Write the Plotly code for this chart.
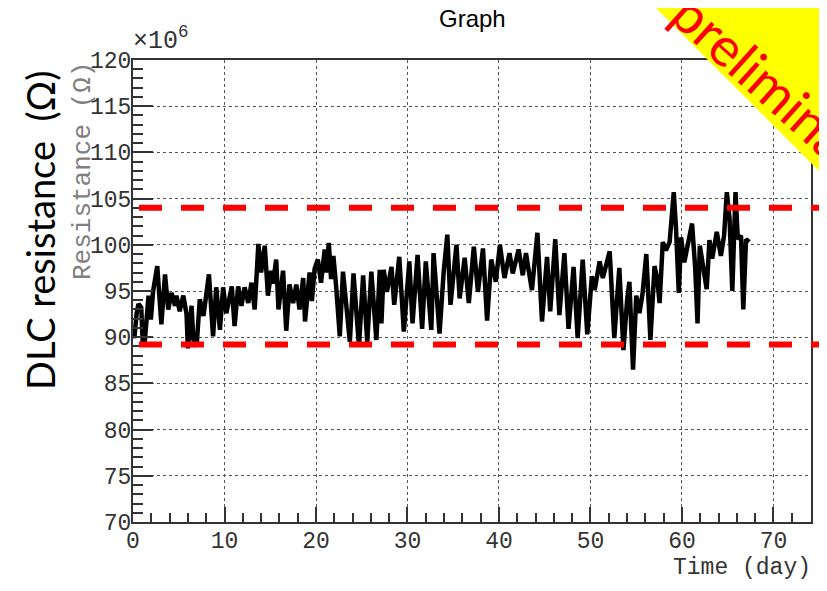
import plotly.graph_objects as go

# ---------------- data ----------------
days = [
    0.0, 0.15, 0.4, 0.6, 0.9, 1.05, 1.3, 1.7, 1.95, 2.2, 2.65, 3.1, 3.5, 3.85, 4.2, 4.6, 4.75,
    5.1, 5.5, 5.85, 6.0, 6.4, 6.6, 6.95, 7.3, 7.7, 8.3, 8.75, 9.1, 9.5, 9.85, 10.2, 10.8,
    11.1, 11.5, 11.85, 12.2, 12.6, 12.95, 13.3, 13.7, 14.0, 14.4, 14.75, 15.1, 15.3, 15.65,
    15.9, 16.4, 16.75, 17.1, 17.5, 17.85, 18.2, 18.6, 18.8, 19.3, 19.55, 19.85, 20.2, 20.55,
    20.95, 21.1, 21.4, 21.65, 21.9, 22.2, 22.6, 22.95, 23.7, 24.1, 24.7, 25.15, 25.6, 26.05,
    26.6, 26.97, 27.15, 27.4, 27.75, 28.25, 28.55, 29.1, 29.6, 30.2, 30.55, 31.1, 31.6, 32.0,
    32.6, 32.85, 33.5, 33.95, 34.35, 34.7, 35.35, 35.7, 36.25, 36.7, 37.25, 37.7, 38.25,
    38.7, 39.15, 39.65, 40.1, 40.6, 41.15, 41.5, 42.15, 42.6, 42.95, 43.2, 43.6, 44.2, 44.7,
    45.25, 45.6, 46.15, 46.6, 47.15, 47.6, 48.15, 48.6, 49.15, 49.65, 50.15, 50.45, 51.0,
    51.35, 52.1, 52.6, 53.15, 53.6, 54.0, 54.25, 54.65, 55.0, 55.35, 55.7, 56.1, 56.55, 57.0,
    57.3, 57.55, 57.9, 58.25, 58.65, 59.1, 59.35, 59.65, 59.9, 60.25, 60.6, 61.1, 61.45,
    61.7, 61.95, 62.35, 62.7, 63.0, 63.3, 63.8, 64.25, 64.6, 64.9, 65.2, 65.5, 65.85, 66.1,
    66.45, 66.7, 67.0, 67.35,
]
resistance_M = [
    90.8, 89.9, 92.6, 93.6, 93.2, 89.7, 89.7, 94.5, 91.9, 95.0, 97.7, 91.4, 96.8, 93.0, 94.8, 93.4, 94.5,
    92.8, 94.5, 92.5, 88.8, 93.4, 89.7, 89.0, 94.1, 92.3, 96.8, 90.1, 95.4, 90.8, 95.4, 92.6, 95.5,
    91.2, 95.5, 93.4, 95.4, 93.7, 95.9, 93.0, 100.1, 97.0, 99.9, 94.5, 97.2, 95.8, 98.4,
    93.0, 97.2, 90.7, 95.7, 93.7, 95.7, 93.0, 96.4, 91.7, 97.0, 93.9, 97.4, 98.4, 95.9,
    99.5, 97.0, 100.2, 96.3, 98.8, 95.5, 90.1, 97.1, 89.5, 96.9, 89.0, 96.7, 89.5, 97.1,
    89.7, 97.3, 91.5, 97.3, 94.9, 97.6, 93.5, 98.7, 90.6, 98.2, 91.5, 98.9, 90.9, 98.2,
    90.8, 99.1, 90.4, 97.0, 101.1, 93.5, 100.0, 94.2, 98.6, 93.7, 99.8, 94.9, 99.6,
    91.8, 98.4, 96.0, 100.0, 96.4, 99.1, 96.9, 99.5, 96.7, 99.1, 97.5, 95.1, 101.3, 91.7,
    98.7, 92.8, 100.6, 92.4, 99.1, 90.9, 97.6, 89.9, 98.4, 90.3, 96.6, 95.1, 98.2,
    96.4, 99.3, 89.9, 97.5, 88.6, 94.0, 96.0, 86.5, 94.5, 92.6, 94.8, 99.0, 89.7, 97.7,
    96.3, 93.7, 100.3, 99.4, 100.3, 105.7, 101.7, 94.8, 100.8, 98.1, 99.9, 102.3, 97.4,
    91.5, 99.9, 97.0, 95.2, 100.5, 98.5, 101.4, 98.8, 101.0, 105.7, 102.8, 95.0, 105.7, 100.6,
    101.0, 93.0, 100.6, 100.3,
]
limit_values_M = [104.0, 89.2]
x_ticks = [0, 10, 20, 30, 40, 50, 60, 70]
y_ticks = [70, 75, 80, 85, 90, 95, 100, 105, 110, 115, 120]

# ---------------- geometry (screen pixel -> paper) ----------------
OFF = 8                      # page body margin
W, H = 827 - OFF, 591 - OFF
ML, MT = 133 - OFF, 60 - OFF
MR = W - (811 - OFF)
MB = H - (522 - OFF)
PW, PH = W - ML - MR, H - MT - MB


def px(x):
    return (x - OFF - ML) / PW


def py(y):
    return (H - MB - (y - OFF)) / PH


fig = go.Figure()
fig.add_trace(go.Scatter(
    x=days, y=resistance_M, mode="lines",
    line=dict(color="black", width=4.5),
    hoverinfo="skip", showlegend=False,
))

mono = "Liberation Mono, Courier New, monospace"
axis_common = dict(
    showline=True, linecolor="#333333", linewidth=2, mirror=True,
    ticks="inside", tickcolor="#333333", tickwidth=2,
    showgrid=True, gridcolor="#555555", gridwidth=1, griddash="dot",
    zeroline=False,
    tickfont=dict(family=mono, size=23, color="#333333"),
)
fig.update_xaxes(range=[0, 74.1], tickvals=x_ticks, ticklen=15,
                 minor=dict(dtick=2, ticks="inside", ticklen=9, tickcolor="#333333", tickwidth=2, showgrid=False),
                 ticklabelstandoff=-4, **axis_common)
fig.update_yaxes(range=[70, 120], tickvals=y_ticks, ticklen=20,
                 minor=dict(dtick=1, ticks="inside", ticklen=10, tickcolor="#333333", tickwidth=2, showgrid=False),
                 ticklabelstandoff=-5, **axis_common)

shapes = []
# yellow "preliminary" banner (lower edge through (648, 0) at 45 degrees)
shapes.append(dict(type="path", xref="paper", yref="paper",
                   path=(f"M {px(628)} {py(-20)} L {px(880)} {py(232)} "
                         f"L {px(880)} {py(-20)} Z"),
                   fillcolor="#ffff00", line=dict(width=0), layer="above"))
# red dashed limit lines
for v in limit_values_M:
    shapes.append(dict(type="line", xref="paper", yref="y",
                       x0=px(139), x1=px(870), y0=v, y1=v,
                       line=dict(color="#ff0000", width=6, dash="23px,19px"), layer="above"))
fig.update_layout(shapes=shapes)

annotations = [
    dict(text="Graph", x=px(472), y=py(18), xref="paper", yref="paper", showarrow=False,
         font=dict(family="Liberation Sans, Arial", size=24, color="#000000"),
         xanchor="center", yanchor="middle"),
    dict(text="×10<sup>6</sup>", x=px(131), y=py(58), xref="paper", yref="paper", showarrow=False,
         font=dict(family=mono, size=25, color="#333333"), xanchor="left", yanchor="bottom"),
    dict(text="Resistance (Ω)", x=px(83), y=py(60), xref="paper", yref="paper", showarrow=False,
         textangle=-90, font=dict(family=mono, size=26, color="#808080"),
         xanchor="center", yanchor="top"),
    dict(text="Time (day)", x=px(813), y=py(568), xref="paper", yref="paper", showarrow=False,
         font=dict(family=mono, size=23, color="#333333"), xanchor="right", yanchor="middle"),
    dict(text="DLC resistance  (Ω)", x=px(40), y=py(231), xref="paper", yref="paper", showarrow=False,
         textangle=-90, font=dict(family="Lato, Noto Sans, sans-serif", size=38, color="#000000"),
         xanchor="center", yanchor="middle"),
    dict(text="preliminary", x=px(780), y=py(92), xref="paper", yref="paper", showarrow=False,
         textangle=42, font=dict(family="Lato, Noto Sans, sans-serif", size=54, color="#ff0000"),
         xanchor="center", yanchor="middle"),
]
fig.update_layout(annotations=annotations)

fig.update_layout(
    width=W, height=H, autosize=False,
    margin=dict(l=ML, r=MR, t=MT, b=MB, pad=0),
    paper_bgcolor="white", plot_bgcolor="white",
    showlegend=False,
)

fig.write_html("out.html")
